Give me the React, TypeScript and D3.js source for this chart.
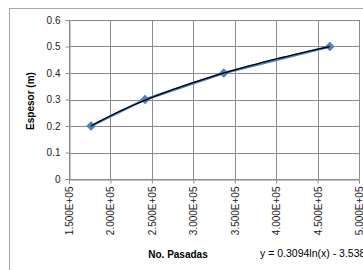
import React, { useEffect, useRef } from 'react';
import * as d3 from 'd3';

const pasadas = [176600, 241800, 336800, 464800];
const espesor = [0.2, 0.3, 0.4, 0.5];
const xTicks = [150000, 200000, 250000, 300000, 350000, 400000, 450000, 500000];
const yTicks = [0, 0.1, 0.2, 0.3, 0.4, 0.5, 0.6];
const fitA = 0.3094;
const fitB = -3.538;

const App = () => {
  const svgRef = useRef<SVGSVGElement>(null);

  useEffect(() => {
    const svg = d3.select(svgRef.current);
    svg.selectAll('*').remove();
    const W = 363, H = 270;
    const margin = { top: 20, right: 4, bottom: 91, left: 69 };
    const w = W - margin.left - margin.right;
    const h = H - margin.top - margin.bottom;
    const font = 'Liberation Sans, Arial, sans-serif';

    // outer chart frame
    svg.append('rect')
      .attr('x', 9.5).attr('y', 8.5)
      .attr('width', 400).attr('height', 300)
      .attr('fill', 'white').attr('stroke', '#a6a6a6');

    const g = svg.append('g').attr('transform', `translate(${margin.left},${margin.top})`);

    const x = d3.scaleLinear().domain([150000, 500000]).range([0, w]);
    const y = d3.scaleLinear().domain([0, 0.6]).range([h, 0]);

    // gridlines
    g.selectAll('.gx').data(xTicks).enter().append('line')
      .attr('x1', d => Math.round(x(d)) + 0.5).attr('x2', d => Math.round(x(d)) + 0.5)
      .attr('y1', 0).attr('y2', h)
      .attr('stroke', '#8c8c8c');
    g.selectAll('.gy').data(yTicks).enter().append('line')
      .attr('y1', d => Math.round(y(d)) + 0.5).attr('y2', d => Math.round(y(d)) + 0.5)
      .attr('x1', 0).attr('x2', w)
      .attr('stroke', '#8c8c8c');

    // axes
    const xAxis = d3.axisBottom(x).tickValues(xTicks).tickSize(4)
      .tickFormat(d => (+d).toExponential(3).replace('e+', 'E+0').toUpperCase());
    const yAxis = d3.axisLeft(y).tickValues(yTicks).tickSize(4)
      .tickFormat(d => String(+d));

    const xg = g.append('g').attr('transform', `translate(0,${Math.round(h) + 0.5})`).call(xAxis);
    const yg = g.append('g').attr('transform', 'translate(0.5,0)').call(yAxis);
    [xg, yg].forEach(a => {
      a.select('.domain').attr('stroke', '#8c8c8c');
      a.selectAll('.tick line').attr('stroke', '#8c8c8c');
      a.selectAll('text').style('font-family', font).style('font-size', '10px').attr('fill', '#222');
    });
    xg.selectAll('.tick text')
      .attr('transform', 'rotate(-90)')
      .attr('text-anchor', 'end')
      .attr('x', -7).attr('y', 0).attr('dy', '0.35em');
    yg.selectAll('.tick text').attr('x', -9);

    // series line
    const pts = pasadas.map((p, i) => [p, espesor[i]] as [number, number]);
    const line = d3.line<[number, number]>().x(d => x(d[0])).y(d => y(d[1]));
    g.append('path').datum(pts)
      .attr('d', line).attr('fill', 'none')
      .attr('stroke', '#4f81bd').attr('stroke-width', 2.5);

    // diamond markers
    const sym = d3.symbol().type(d3.symbolDiamond2).size(50);
    g.selectAll('.pt').data(pts).enter().append('path')
      .attr('d', sym)
      .attr('transform', d => `translate(${x(d[0])},${y(d[1])})`)
      .attr('fill', '#4f81bd').attr('stroke', '#3a6aa5').attr('stroke-width', 0.5);

    // log trendline
    const xs = d3.range(0, 61).map(i => pasadas[0] + (pasadas[3] - pasadas[0]) * i / 60);
    const trend = xs.map(v => [v, fitA * Math.log(v) + fitB] as [number, number]);
    g.append('path').datum(trend)
      .attr('d', line).attr('fill', 'none')
      .attr('stroke', '#000').attr('stroke-width', 1.3);

    // titles
    svg.append('text')
      .attr('transform', `translate(34,101) rotate(-90)`)
      .attr('text-anchor', 'middle')
      .style('font-family', font).style('font-size', '10px').style('font-weight', 'bold')
      .text('Espesor (m)');
    svg.append('text')
      .attr('x', 178).attr('y', 258)
      .attr('text-anchor', 'middle')
      .style('font-family', font).style('font-size', '10px').style('font-weight', 'bold')
      .text('No. Pasadas');
    svg.append('text')
      .attr('x', 260).attr('y', 257)
      .style('font-family', font).style('font-size', '10.5px')
      .text('y = 0.3094ln(x) - 3.538');
  }, []);

  return (
    <svg ref={svgRef} width={363} height={270}
      style={{ position: 'absolute', left: 0, top: 0, background: 'white' }} />
  );
};

export default App;
